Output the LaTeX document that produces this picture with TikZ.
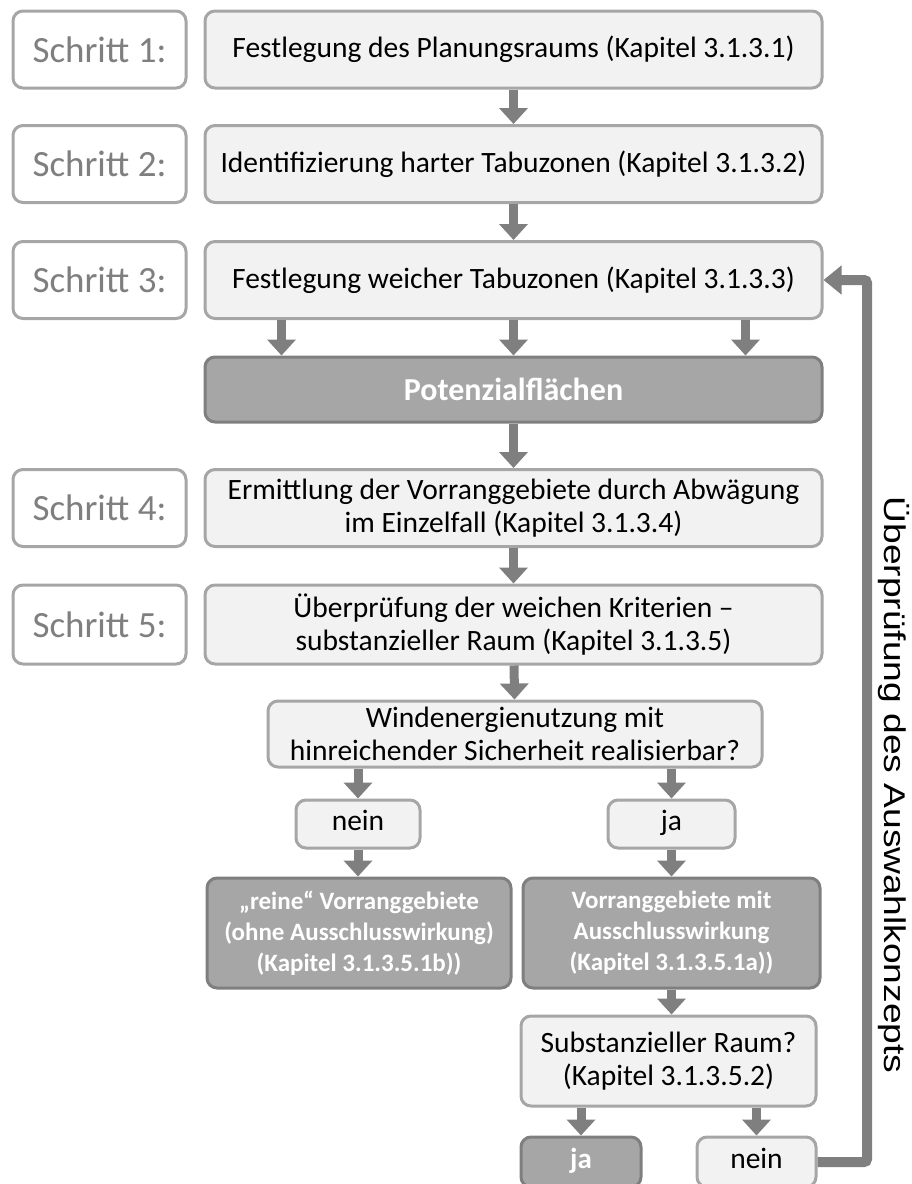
\documentclass[tikz,border=0pt]{standalone}
\usepackage{fontspec}
\setmainfont{Carlito}
\newfontfamily\arialfont{Liberation Sans}
\usepackage{graphicx}
\usetikzlibrary{arrows.meta}
\definecolor{boxgray}{HTML}{F2F2F2}
\definecolor{linegray}{HTML}{A6A6A6}
\definecolor{darkfill}{HTML}{A6A6A6}
\definecolor{darkline}{HTML}{7F7F7F}
\definecolor{arrowgray}{HTML}{7F7F7F}
\tikzstyle{schritt} = [rectangle, rounded corners=10pt, minimum width=173pt, minimum height=77pt, inner sep=0pt, draw=linegray, line width=3pt, fill=white, text=darkline, font=\fontsize{37}{40}\selectfont]
\tikzstyle{process} = [rectangle, rounded corners=10pt, minimum width=617pt, minimum height=77pt, inner sep=0pt, text centered, align=center, draw=linegray, line width=3pt, fill=boxgray, font=\fontsize{29.5}{33}\selectfont]
\tikzstyle{result} = [rectangle, rounded corners=10pt, inner sep=0pt, text centered, align=center, draw=darkline, line width=3pt, fill=darkfill, text=white, font=\bfseries\fontsize{25}{31}\selectfont]
\tikzstyle{arrow} = [line width=9pt, draw=arrowgray, -{Triangle[length=16pt,width=28pt]}]
\tikzstyle{backarrow} = [line width=10pt, draw=arrowgray, rounded corners=3pt, -{Triangle[length=18pt,width=28pt]}]

\begin{document}
\begin{tikzpicture}[x=1pt,y=-1pt]
\useasboundingbox (0,0) rectangle (911,1184);
% Schritte
\node (s1) [schritt] at (99.5,49.5) {Schritt 1:};
\node (p1) [process] at (513.5,49.5) {Festlegung des Planungsraums (Kapitel 3.1.3.1)};
\node (s2) [schritt] at (99.5,164) {Schritt 2:};
\node (p2) [process] at (513.5,164) {Identifizierung harter Tabuzonen (Kapitel 3.1.3.2)};
\node (s3) [schritt] at (99.5,280) {Schritt 3:};
\node (p3) [process] at (513.5,280) {Festlegung weicher Tabuzonen (Kapitel 3.1.3.3)};
\node (pot) [result, minimum width=617pt, minimum height=65pt, font=\bfseries\fontsize{32}{36}\selectfont] at (513.5,389.5) {Potenzialflächen};
\node (s4) [schritt] at (99.5,508) {Schritt 4:};
\node (p4) [process] at (513.5,508) {Ermittlung der Vorranggebiete durch Abwägung\\im Einzelfall (Kapitel 3.1.3.4)};
\node (s5) [schritt, minimum height=79pt] at (99.5,624.5) {Schritt 5:};
\node (p5) [process, minimum height=79pt] at (513.5,624.5) {Überprüfung der weichen Kriterien –\\substanzieller Raum (Kapitel 3.1.3.5)};
% Entscheidung
\node (dec) [process, minimum width=494pt, minimum height=66pt] at (515,734) {Windenergienutzung mit\\hinreichender Sicherheit realisierbar?};
\node (nein1) [process, minimum width=124pt, minimum height=48pt] at (358,824) {nein\strut};
\node (ja1) [process, minimum width=127pt, minimum height=48pt] at (671.5,824) {ja\strut};
\node (vgl) [result, minimum width=304pt, minimum height=110pt] at (359,933) {„reine“ Vorranggebiete\\(ohne Ausschlusswirkung)\\(Kapitel 3.1.3.5.1b))};
\node (vgr) [result, minimum width=297pt, minimum height=110pt] at (671.5,933) {Vorranggebiete mit\\Ausschlusswirkung\\(Kapitel 3.1.3.5.1a))};
\node (sub) [process, minimum width=295pt, minimum height=90pt] at (668.5,1061) {Substanzieller Raum?\\(Kapitel 3.1.3.5.2)};
\node (ja2) [result, minimum width=120pt, minimum height=50pt, font=\bfseries\fontsize{29}{32}\selectfont] at (581,1162) {ja\strut};
\node (nein2) [process, minimum width=119pt, minimum height=50pt] at (756.5,1162) {nein\strut};
\coordinate (loop) at (867,0);
\node (loopnote) [rotate=-90, font=\arialfont\fontsize{30}{32}\selectfont] at (894,785) {\scalebox{1.24}[1]{Überprüfung des Auswahlkonzepts}};
% Pfeile
\draw [arrow] (p1) -- (p2);
\draw [arrow] (p2) -- (p3);
\foreach \dx in {-232,0,232}
  \draw [arrow] ([xshift=\dx pt]p3.south) -- ([xshift=\dx pt]pot.north);
\draw [arrow] (pot) -- (p4);
\draw [arrow] (p4) -- (p5);
\draw [arrow] (p5) -- (dec);
\draw [arrow] (nein1 |- dec.south) -- (nein1.north);
\draw [arrow] (ja1 |- dec.south) -- (ja1.north);
\draw [arrow] (nein1.south) -- (nein1.south |- vgl.north);
\draw [arrow] (ja1.south) -- (ja1.south |- vgr.north);
\draw [arrow] (vgr.south) -- (vgr.south |- sub.north);
\draw [arrow] (ja2 |- sub.south) -- (ja2.north);
\draw [arrow] (nein2 |- sub.south) -- (nein2.north);
\draw [backarrow] (nein2.east) -- (nein2.east -| loop) -- (loop |- p3.east) -- (p3.east);
\end{tikzpicture}
\end{document}
